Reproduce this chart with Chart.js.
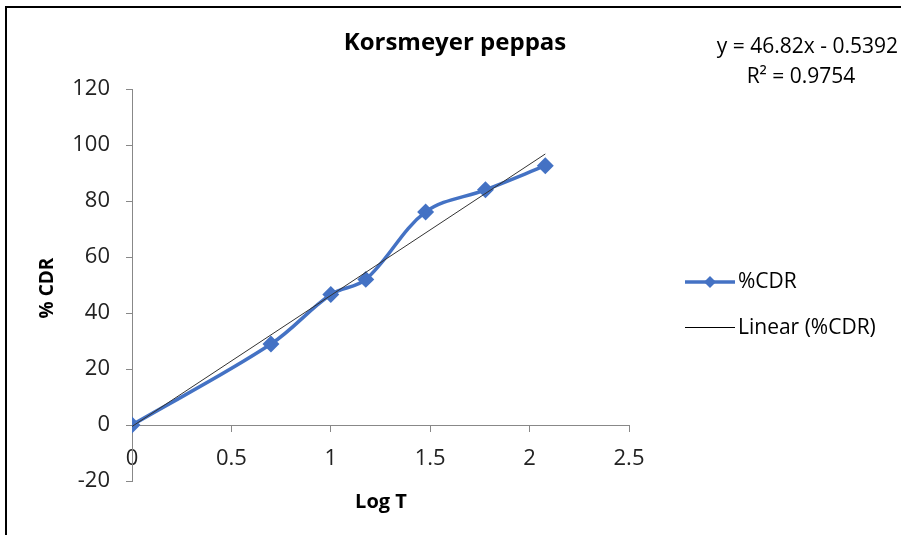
<!DOCTYPE html>
<html>
<head>
<meta charset="utf-8">
<script src="https://cdn.jsdelivr.net/npm/chart.js@4.4.0/dist/chart.umd.min.js"></script>
<style>
    html, body { margin: 0; padding: 0; background: #fff; }
    #wrap { width: 901px; height: 535px; position: relative; }
</style>
</head>
<body>
<div id="wrap"><canvas id="chart" width="901" height="535"></canvas></div>
<script>
// Data
const logT = [0, 0.699, 1, 1.176, 1.477, 1.778, 2.079];
const cdr = [0, 28.9, 46.6, 52, 76.1, 84, 92.6];
// trendline endpoints (x, y)
const trendX = [0, 2.079];
const trendY = [-0.54, 96.8];
const xTicks = [0, 0.5, 1, 1.5, 2, 2.5];
const yTicks = [-20, 0, 20, 40, 60, 80, 100, 120];

const blue = '#4472C4';
const tickFont = { family: 'Open Sans, sans-serif', size: 22 };

// draws frame, titles, equation and the legend
const decor = {
    id: 'decor',
    afterDraw(chart) {
        const ctx = chart.ctx;
        ctx.save();
        // frame
        ctx.strokeStyle = '#000';
        ctx.lineWidth = 2;
        ctx.beginPath();
        ctx.moveTo(6, 535);
        ctx.lineTo(6, 7);
        ctx.lineTo(901, 7);
        ctx.stroke();

        ctx.fillStyle = '#000';
        ctx.textAlign = 'center';
        ctx.textBaseline = 'middle';
        ctx.font = 'bold 24px "Open Sans", sans-serif';
        ctx.fillText('Korsmeyer peppas', 455, 43);

        ctx.font = 'bold 20px "Open Sans", sans-serif';
        ctx.fillText('Log T', 381, 502);
        ctx.save();
        ctx.translate(48, 288);
        ctx.rotate(-Math.PI / 2);
        ctx.font = 'bold 19px "Open Sans", sans-serif';
        ctx.fillText('% CDR', 0, 0);
        ctx.restore();

        ctx.font = '21px "Open Sans", sans-serif';
        ctx.textAlign = 'right';
        ctx.fillText('y = 46.82x - 0.5392', 898, 47);
        ctx.textAlign = 'center';
        ctx.fillText('R\u00B2 = 0.9754', 801, 77);

        // legend
        ctx.textAlign = 'left';
        ctx.strokeStyle = blue;
        ctx.lineWidth = 3.5;
        ctx.beginPath();
        ctx.moveTo(685, 282);
        ctx.lineTo(735, 282);
        ctx.stroke();
        ctx.fillStyle = blue;
        ctx.beginPath();
        ctx.moveTo(710, 276);
        ctx.lineTo(716, 282);
        ctx.lineTo(710, 288);
        ctx.lineTo(704, 282);
        ctx.closePath();
        ctx.fill();
        ctx.fillStyle = '#000';
        ctx.fillText('%CDR', 738, 282);

        ctx.strokeStyle = '#000';
        ctx.lineWidth = 1;
        ctx.beginPath();
        ctx.moveTo(685, 327.5);
        ctx.lineTo(735, 327.5);
        ctx.stroke();
        ctx.fillText('Linear (%CDR)', 738, 328);
        ctx.restore();
    }
};

new Chart(document.getElementById('chart'), {
    type: 'scatter',
    data: {
        datasets: [
            {
                label: '%CDR',
                data: logT.map((x, i) => ({ x: x, y: cdr[i] })),
                showLine: true,
                borderColor: blue,
                backgroundColor: blue,
                borderWidth: 3.5,
                tension: 0.35,
                pointStyle: 'rectRot',
                pointRadius: 6,
                pointHoverRadius: 6,
                order: 2
            },
            {
                label: 'Linear (%CDR)',
                data: trendX.map((x, i) => ({ x: x, y: trendY[i] })),
                showLine: true,
                borderColor: '#333',
                borderWidth: 1,
                pointRadius: 0,
                order: 1
            }
        ]
    },
    options: {
        responsive: false,
        animation: false,
        layout: { padding: { left: 0, top: 89, right: 272, bottom: 54 } },
        plugins: {
            legend: { display: false },
            tooltip: { enabled: false }
        },
        scales: {
            x: {
                type: 'linear',
                min: 0,
                max: 2.5,
                position: { y: 0 },
                afterBuildTicks: s => { s.ticks = xTicks.map(v => ({ value: v })); },
                grid: { drawOnChartArea: false, drawTicks: true, tickLength: 6, color: '#888' },
                border: { color: '#888', width: 1 },
                ticks: { color: '#222', font: tickFont, padding: 15, callback: v => String(v) }
            },
            y: {
                type: 'linear',
                min: -20,
                max: 120,
                afterBuildTicks: s => { s.ticks = yTicks.map(v => ({ value: v })); },
                afterFit: s => { s.width = 132; },
                grid: { drawOnChartArea: false, drawTicks: true, tickLength: 6, color: '#888' },
                border: { color: '#888', width: 1 },
                ticks: { color: '#222', font: tickFont, padding: 16, callback: v => String(v) }
            }
        }
    },
    plugins: [decor]
});
</script>
</body>
</html>
